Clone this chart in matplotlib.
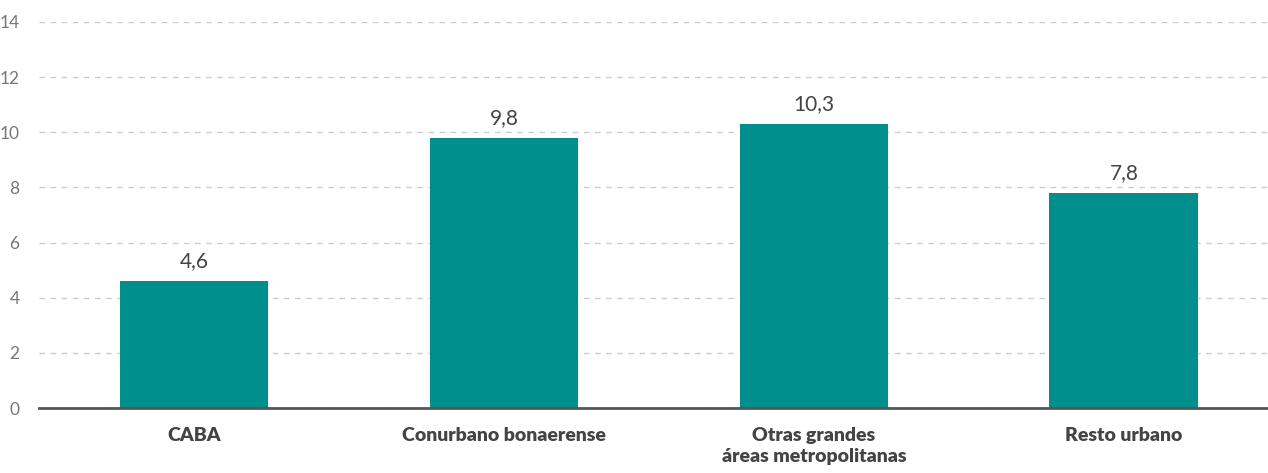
import matplotlib as mpl
mpl.use('Agg')
import matplotlib.pyplot as plt

categorias = ['CABA', 'Conurbano bonaerense', 'Otras grandes\náreas metropolitanas', 'Resto urbano']
valores = [4.6, 9.8, 10.3, 7.8]
etiquetas = ['4,6', '9,8', '10,3', '7,8']
yticks = [0, 2, 4, 6, 8, 10, 12, 14]

plt.rcParams['font.family'] = ['Lato', 'DejaVu Sans']

fig = plt.figure(figsize=(12.68, 4.73), dpi=100)
ax = fig.add_axes([0.0308, 0.1374, 0.9692, 0.8161])

x = range(len(categorias))
ax.bar(x, valores, width=0.48, color='#008F8C', zorder=3)

# etiquetas de valor encima de cada barra
for xi, v, t in zip(x, valores, etiquetas):
    ax.text(xi, v + 0.35, t, ha='center', va='bottom', fontsize=15, color='#444444')

ax.set_ylim(0, 14)
ax.set_xlim(-0.5, 3.465)
ax.set_yticks(yticks)
ax.set_yticklabels([str(t) for t in yticks], fontsize=12.5, color='#777777')
ax.set_xticks(list(x))
ax.set_xticklabels(categorias, fontsize=14, fontweight='heavy', color='#444444', linespacing=1.25)
ax.tick_params(axis='both', length=0)
ax.tick_params(axis='y', pad=14)
ax.tick_params(axis='x', pad=14)

ax.grid(axis='y', color='#cccccc', linestyle=(0, (4, 4)), linewidth=1, zorder=0)
for s in ['top', 'right', 'left']:
    ax.spines[s].set_visible(False)
ax.spines['bottom'].set_color('#555555')
ax.spines['bottom'].set_linewidth(2)
ax.spines['bottom'].set_zorder(4)

plt.savefig('out.png', dpi=100)
plt.close('all')
